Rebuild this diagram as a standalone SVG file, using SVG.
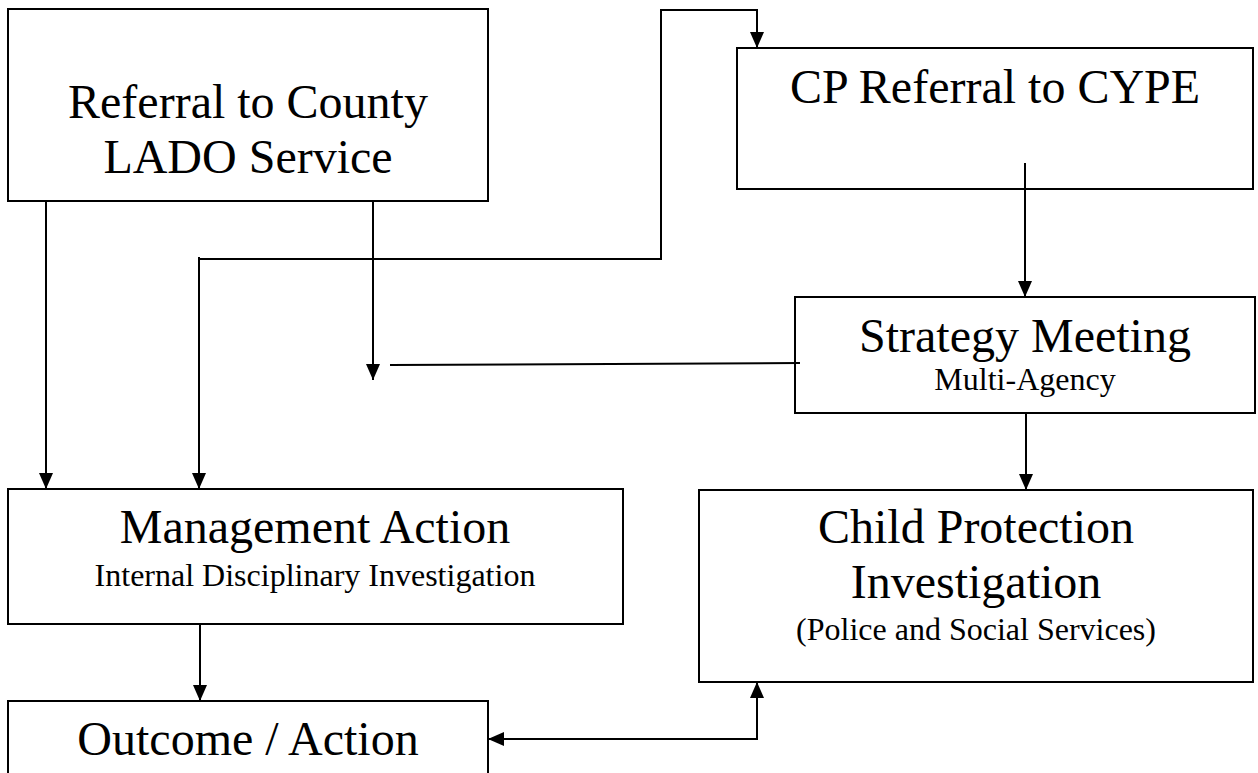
<svg xmlns="http://www.w3.org/2000/svg" width="1258" height="773" viewBox="0 0 1258 773">
<defs>
<style>
.box{fill:#fff;stroke:#000;stroke-width:2}
.t{font-family:"Liberation Serif","Times New Roman",serif;fill:#000;text-anchor:middle}
.big{font-size:48px}
.small{font-size:32px}
.c{fill:none;stroke:#000;stroke-width:2}
</style>
<marker id="ah" viewBox="0 0 16 14" refX="16" refY="7" markerWidth="16" markerHeight="14" markerUnits="userSpaceOnUse" orient="auto-start-reverse">
<path d="M0,0 L16,7 L0,14 Z" fill="#000"/>
</marker>
</defs>
<rect width="1258" height="773" fill="#fff"/>
<g id="n-referral">
<rect class="box" x="8" y="9" width="480" height="192"/>
<text class="t big" x="248" y="118">Referral to County</text>
<text class="t big" x="248" y="173">LADO Service</text>
</g>
<g id="n-cp-referral">
<rect class="box" x="737" y="48" width="516" height="141"/>
<text class="t big" x="995" y="103">CP Referral to CYPE</text>
</g>
<g id="n-strategy">
<rect class="box" x="795" y="297" width="460" height="116"/>
<text class="t big" x="1025" y="352">Strategy Meeting</text>
<text class="t small" x="1025" y="390">Multi-Agency</text>
</g>
<g id="n-management">
<rect class="box" x="8" y="489" width="615" height="135"/>
<text class="t big" x="315" y="543">Management Action</text>
<text class="t small" x="315" y="586">Internal Disciplinary Investigation</text>
</g>
<g id="n-cp-investigation">
<rect class="box" x="699" y="490" width="554" height="192"/>
<text class="t big" x="976" y="543">Child Protection</text>
<text class="t big" x="976" y="598">Investigation</text>
<text class="t small" x="976" y="640">(Police and Social Services)</text>
</g>
<g id="n-outcome">
<rect class="box" x="8" y="701" width="480" height="90"/>
<text class="t big" x="248" y="755">Outcome / Action</text>
</g>
<g id="connectors">
<path class="c" d="M46,201 V489" marker-end="url(#ah)"/>
<path class="c" d="M373,201 V380" marker-end="url(#ah)"/>
<path class="c" d="M199,257 V489" marker-end="url(#ah)"/>
<path class="c" d="M199,259 H661 V10 H757 V48" marker-end="url(#ah)"/>
<path class="c" d="M1025,163 V297" marker-end="url(#ah)"/>
<path class="c" d="M390,365 L800,363"/>
<path class="c" d="M1026,413 V490" marker-end="url(#ah)"/>
<path class="c" d="M200,624 V701" marker-end="url(#ah)"/>
<path class="c" d="M757,682 V739 H488" marker-start="url(#ah)" marker-end="url(#ah)"/>
</g>
</svg>
